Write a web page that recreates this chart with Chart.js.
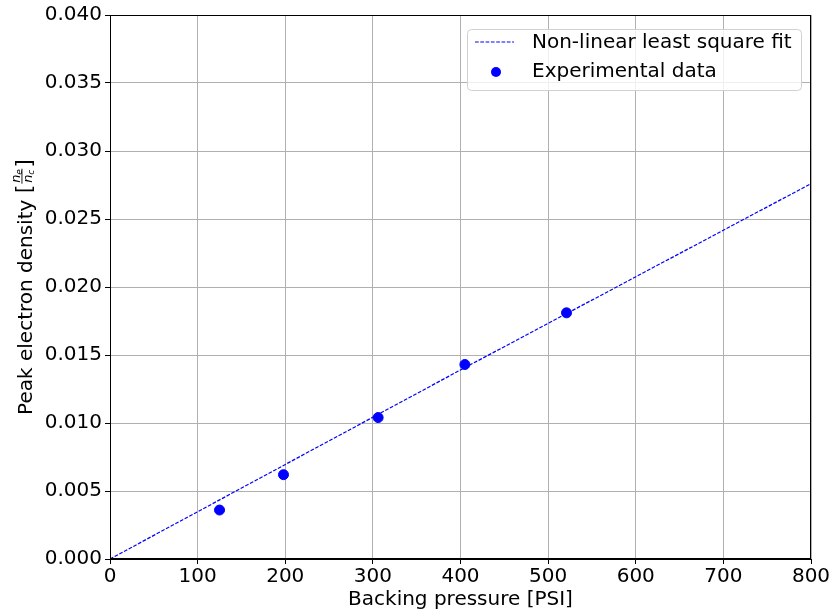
<!DOCTYPE html>
<html>
<head>
<meta charset="utf-8">
<script src="https://cdn.jsdelivr.net/npm/chart.js@4.4.1/dist/chart.umd.min.js"></script>
<style>
  html, body { margin: 0; padding: 0; background: #fff; }
  #wrap { width: 833px; height: 616px; }
</style>
</head>
<body>
<div id="wrap"><canvas id="grafico" width="833" height="616"></canvas></div>
<script>
// dados
const pressao = [125, 198, 306, 405, 521];
const densidade = [0.0036, 0.0062, 0.0104, 0.0143, 0.0181];
const ajusteX = [0, 400, 800];
const ajusteY = [0, 0.0139, 0.0276];
const nomeAjuste = 'Non-linear least square fit';
const nomeDados = 'Experimental data';

const fonte = '"DejaVu Sans", sans-serif';

// moldura completa do eixo
const moldura = {
    id: 'moldura',
    afterDatasetsDraw(chart) {
        const a = chart.chartArea, ctx = chart.ctx;
        ctx.save();
        ctx.strokeStyle = '#000';
        ctx.lineWidth = 1;
        ctx.strokeRect(a.left + 0.5, a.top + 0.5, a.right - a.left - 1, a.bottom - a.top - 1);
        ctx.restore();
    }
};

// legenda no canto superior direito
const legenda = {
    id: 'legenda',
    afterDraw(chart) {
        const ctx = chart.ctx, a = chart.chartArea;
        const w = 334, h = 61;
        const x = a.right - 10 - w, y = a.top + 14;
        ctx.save();
        ctx.fillStyle = 'rgba(255,255,255,0.8)';
        ctx.strokeStyle = '#d0d0d0';
        ctx.lineWidth = 1;
        ctx.beginPath();
        ctx.roundRect(x + 0.5, y + 0.5, w, h, 4);
        ctx.fill();
        ctx.stroke();
        // linha tracejada
        ctx.strokeStyle = '#0000ff';
        ctx.lineWidth = 1.2;
        ctx.setLineDash([3.7, 1.6]);
        ctx.beginPath();
        ctx.moveTo(x + 8, y + 13);
        ctx.lineTo(x + 47, y + 13);
        ctx.stroke();
        ctx.setLineDash([]);
        // ponto
        ctx.fillStyle = '#0000ff';
        ctx.beginPath();
        ctx.arc(x + 29, y + 43, 5, 0, Math.PI * 2);
        ctx.fill();
        ctx.fillStyle = '#000';
        ctx.font = '20px ' + fonte;
        ctx.textBaseline = 'middle';
        ctx.fillText(nomeAjuste, x + 65, y + 14);
        ctx.fillText(nomeDados, x + 65, y + 43);
        ctx.restore();
    }
};

// título do eixo y com fração
const tituloY = {
    id: 'tituloY',
    afterDraw(chart) {
        const ctx = chart.ctx, a = chart.chartArea;
        ctx.save();
        ctx.translate(31.5, (a.top + a.bottom) / 2);
        ctx.rotate(-Math.PI / 2);
        ctx.fillStyle = '#000';
        ctx.textBaseline = 'alphabetic';
        const base = 'Peak electron density ';
        ctx.font = '20px ' + fonte;
        const wBase = ctx.measureText(base).width;
        ctx.font = '22px ' + fonte;
        const wCol = ctx.measureText('[').width;
        const wFrac = 15;
        const total = wBase + 2 * wCol + wFrac + 2;
        let px = -total / 2;
        ctx.font = '20px ' + fonte;
        ctx.fillText(base, px, 0);
        px += wBase;
        ctx.font = '22px ' + fonte;
        ctx.fillText('[', px, -0.5);
        px += wCol + 1;
        // fração n_e / n_c
        ctx.font = 'italic 13px ' + fonte;
        ctx.fillText('n', px + 1, -11.5);
        ctx.fillText('n', px + 1, 0);
        ctx.font = 'italic 9px ' + fonte;
        ctx.fillText('e', px + 9, -9.5);
        ctx.fillText('c', px + 9, 2.5);
        ctx.fillRect(px, -10, wFrac, 0.9);
        px += wFrac + 1;
        ctx.font = '22px ' + fonte;
        ctx.fillText(']', px, -0.5);
        ctx.restore();
    }
};

const ctx = document.getElementById('grafico').getContext('2d');
new Chart(ctx, {
    type: 'scatter',
    data: {
        datasets: [
            {
                type: 'line',
                label: nomeAjuste,
                data: ajusteX.map((x, i) => ({ x: x, y: ajusteY[i] })),
                borderColor: '#0000ff',
                borderWidth: 1.2,
                borderDash: [3.7, 1.6],
                pointRadius: 0,
                fill: false,
                order: 2
            },
            {
                label: nomeDados,
                data: pressao.map((x, i) => ({ x: x, y: densidade[i] })),
                backgroundColor: '#0000ff',
                borderColor: '#0000ff',
                pointRadius: 5,
                order: 1
            }
        ]
    },
    options: {
        responsive: false,
        animation: false,
        layout: { padding: { top: 13, right: 22, left: 0, bottom: 0 } },
        plugins: { legend: { display: false }, tooltip: { enabled: false } },
        scales: {
            x: {
                type: 'linear',
                min: 0, max: 800,
                afterFit(s) { s.height = 57; },
                ticks: { stepSize: 100, color: '#000', font: { family: fonte, size: 20 }, padding: 1, maxRotation: 0 },
                grid: { color: '#b0b0b0', lineWidth: 1, tickColor: '#000', tickLength: 5 },
                border: { color: '#000' },
                title: { display: true, text: 'Backing pressure [PSI]', color: '#000', font: { family: fonte, size: 20 }, padding: { top: 0 } }
            },
            y: {
                min: 0, max: 0.04,
                afterFit(s) { s.width = 110; },
                ticks: { stepSize: 0.005, color: '#000', font: { family: fonte, size: 20 }, padding: 3, callback: v => v.toFixed(3) },
                grid: { color: '#b0b0b0', lineWidth: 1, tickColor: '#000', tickLength: 5 },
                border: { color: '#000' }
            }
        }
    },
    plugins: [moldura, legenda, tituloY]
});
</script>
</body>
</html>
